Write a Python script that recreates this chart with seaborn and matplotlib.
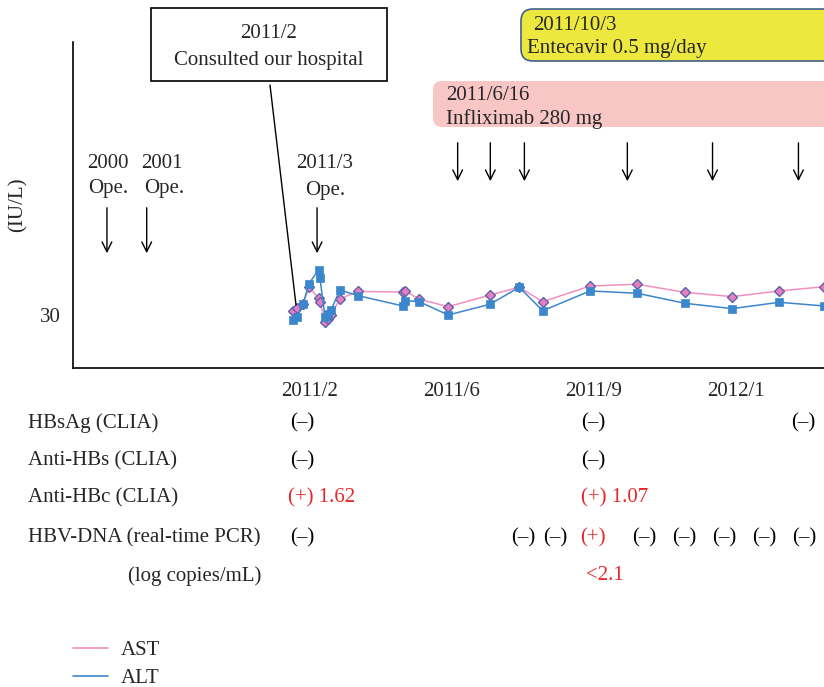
import numpy as np
import pandas as pd
import matplotlib
matplotlib.use('Agg')
import matplotlib.pyplot as plt
from matplotlib.patches import FancyBboxPatch, Rectangle
from matplotlib.lines import Line2D
from matplotlib.transforms import IdentityTransform
import seaborn as sns

# position on the (uneven) time axis: 2011/2 = 0, 2011/6 = 10, 2011/9 = 20, 2012/1 = 30
visit_pos = [-1.23, -0.92, -0.49, -0.07, 0.60, 0.70, 1.06, 1.27, 1.48, 2.11, 3.35, 6.55,
             6.69, 7.70, 9.74, 12.68, 14.74, 16.39, 19.72, 23.05, 26.41, 29.74, 33.05, 36.2]
ast = [32.0, 33.7, 36.2, 45.8, 39.6, 37.6, 26.3, 28.0, 30.0, 39.1, 43.3, 43.0,
       43.6, 38.9, 34.7, 41.3, 45.7, 37.5, 46.4, 47.4, 42.8, 40.4, 43.6, 46.0]
alt = [26.9, 28.6, 36.2, 47.8, 55.5, 50.9, 28.9, 30.8, 32.8, 44.2, 41.0, 35.1,
       38.2, 37.5, 30.0, 36.1, 45.7, 32.4, 43.6, 42.3, 36.6, 33.6, 37.2, 35.1]

tick_pos = [0, 10, 20, 30]
tick_labels = ['2011/2', '2011/6', '2011/9', '2012/1']

row_labels = ['HBsAg (CLIA)', 'Anti-HBs (CLIA)', 'Anti-HBc (CLIA)', 'HBV-DNA (real-time PCR)']
hbsag = [(-0.56, '(–)'), (19.93, '(–)'), (34.72, '(–)')]
anti_hbs = [(-0.56, '(–)'), (19.93, '(–)')]
anti_hbc = [(0.85, '(+) 1.62'), (21.45, '(+) 1.07')]
hbv_dna = [(-0.56, '(–)'), (15.0, '(–)'), (17.25, '(–)'), (19.93, '(+)'), (23.52, '(–)'),
           (26.34, '(–)'), (29.15, '(–)'), (31.97, '(–)'), (34.79, '(–)')]
hbv_log = [(20.77, '<2.1')]

# treatment arrows (x positions on the same axis)
ope_arrows = [-14.3, -11.5, 0.5]
ifx_arrows = [10.4, 12.7, 15.1, 22.35, 28.35, 34.4]

W, H = 824, 687
pink = '#f38fc0'
blue = '#3b86cc'
red = '#e8262a'
dy = 3  # text centre correction in pixels

df = pd.DataFrame({'pos': visit_pos * 2, 'value': ast + alt,
                   'test': ['AST'] * len(ast) + ['ALT'] * len(alt)})

sns.set_style('white')
plt.rcParams['font.family'] = ['Liberation Serif', 'DejaVu Serif']
fs = 15

fig = plt.figure(figsize=(W / 100, H / 100), dpi=100)
ax = fig.add_axes([73 / W, 1 - 368 / H, 1 - 73 / W, (368 - 42) / H])

sns.lineplot(data=df[df['test'] == 'AST'], x='pos', y='value', ax=ax, color=pink,
             marker='D', markersize=5, markerfacecolor='#e77fbd', markeredgecolor='#5a62b0',
             markeredgewidth=1, linewidth=1.1, legend=False)
sns.lineplot(data=df[df['test'] == 'ALT'], x='pos', y='value', ax=ax, color=blue,
             marker='s', markersize=6, markerfacecolor=blue, markeredgecolor=blue,
             markeredgewidth=0.5, linewidth=1.1, legend=False)

ax.set_xlim(-16.69, 36.2)
ax.set_ylim(0, 184.5)
ax.set_xticks(tick_pos)
ax.set_xticklabels(tick_labels, fontsize=fs)
ax.set_yticks([30])
ax.set_yticklabels(['30'], fontsize=fs)
ax.tick_params(axis='x', length=0, pad=10)
ax.tick_params(axis='y', length=0, pad=9)
ax.set_xlabel('')
ax.set_ylabel('(IU/L)', fontsize=fs)
ax.yaxis.set_label_coords(-0.061, 0.5)
for s in ['top', 'right']:
    ax.spines[s].set_visible(False)
for s in ['left', 'bottom']:
    ax.spines[s].set_color('black')
    ax.spines[s].set_linewidth(1.2)

# table below the axis
xt = ax.get_xaxis_transform()
def yf(py):
    return (368 - py) / 326

def ftext(x, y, t, **kw):
    fig.text(x / W, 1 - (y + dy) / H, t, fontsize=fs, va='center', **kw)

rows = [hbsag, anti_hbs, anti_hbc, hbv_dna]
row_y = [420, 458, 495, 535]
for label, vals, py in zip(row_labels, rows, row_y):
    ftext(28, py, label, ha='left')
    for pos, txt in vals:
        col = red if '+' in txt else 'black'
        ax.text(pos, yf(py + dy), txt, transform=xt, fontsize=fs, va='center', ha='center',
                color=col, clip_on=False)
ftext(195, 573, '(log copies/mL)', ha='center')
for pos, txt in hbv_log:
    ax.text(pos, yf(573 + dy), txt, transform=xt, fontsize=fs, va='center', ha='center',
            color=red, clip_on=False)

# arrows
for pos in ope_arrows:
    ax.annotate('', xy=(pos, yf(256)), xytext=(pos, yf(205)), xycoords=xt, textcoords=xt,
                arrowprops=dict(arrowstyle='->,head_width=0.35,head_length=0.7', lw=1, color='black'))
for pos in ifx_arrows:
    ax.annotate('', xy=(pos, yf(184)), xytext=(pos, yf(140)), xycoords=xt, textcoords=xt,
                arrowprops=dict(arrowstyle='->,head_width=0.35,head_length=0.7', lw=1, color='black'))

for x, y, t in [(108, 160, '2000'), (108, 186, 'Ope.'), (162, 160, '2001'), (164, 186, 'Ope.'),
                (325, 160, '2011/3'), (325, 187, 'Ope.')]:
    ftext(x, y, t, ha='center')

# boxes
idt = IdentityTransform()
fig.add_artist(Rectangle((151, H - 81), 236, 73, transform=idt, facecolor='white',
                         edgecolor='black', lw=1.2))
ftext(269, 30, '2011/2', ha='center')
ftext(269, 58, 'Consulted our hospital', ha='center')
fig.add_artist(Line2D([270, 296], [H - 85, H - 305], transform=idt, color='black', lw=1))

fig.add_artist(FancyBboxPatch((521, H - 61), 320, 52, boxstyle='round,pad=0,rounding_size=12',
                              transform=idt, facecolor='#ece83e', edgecolor='#41608f', lw=1.2))
ftext(533, 22, '2011/10/3', ha='left')
ftext(527, 46, 'Entecavir 0.5 mg/day', ha='left')

fig.add_artist(FancyBboxPatch((433, H - 127), 400, 46, boxstyle='round,pad=0,rounding_size=9',
                              transform=idt, facecolor='#f9c6c6', edgecolor='none'))
ftext(446, 92, '2011/6/16', ha='left')
ftext(446, 116, 'Infliximab 280 mg', ha='left')

handles = [Line2D([], [], color=pink, lw=1.2), Line2D([], [], color=blue, lw=1.2)]
fig.legend(handles, ['AST', 'ALT'], loc='upper left', bbox_to_anchor=(54 / W, 1 - 622 / H),
           frameon=False, fontsize=fs, handlelength=1.7, handletextpad=0.6, labelspacing=0.4)

fig.savefig('out.png', dpi=100)
